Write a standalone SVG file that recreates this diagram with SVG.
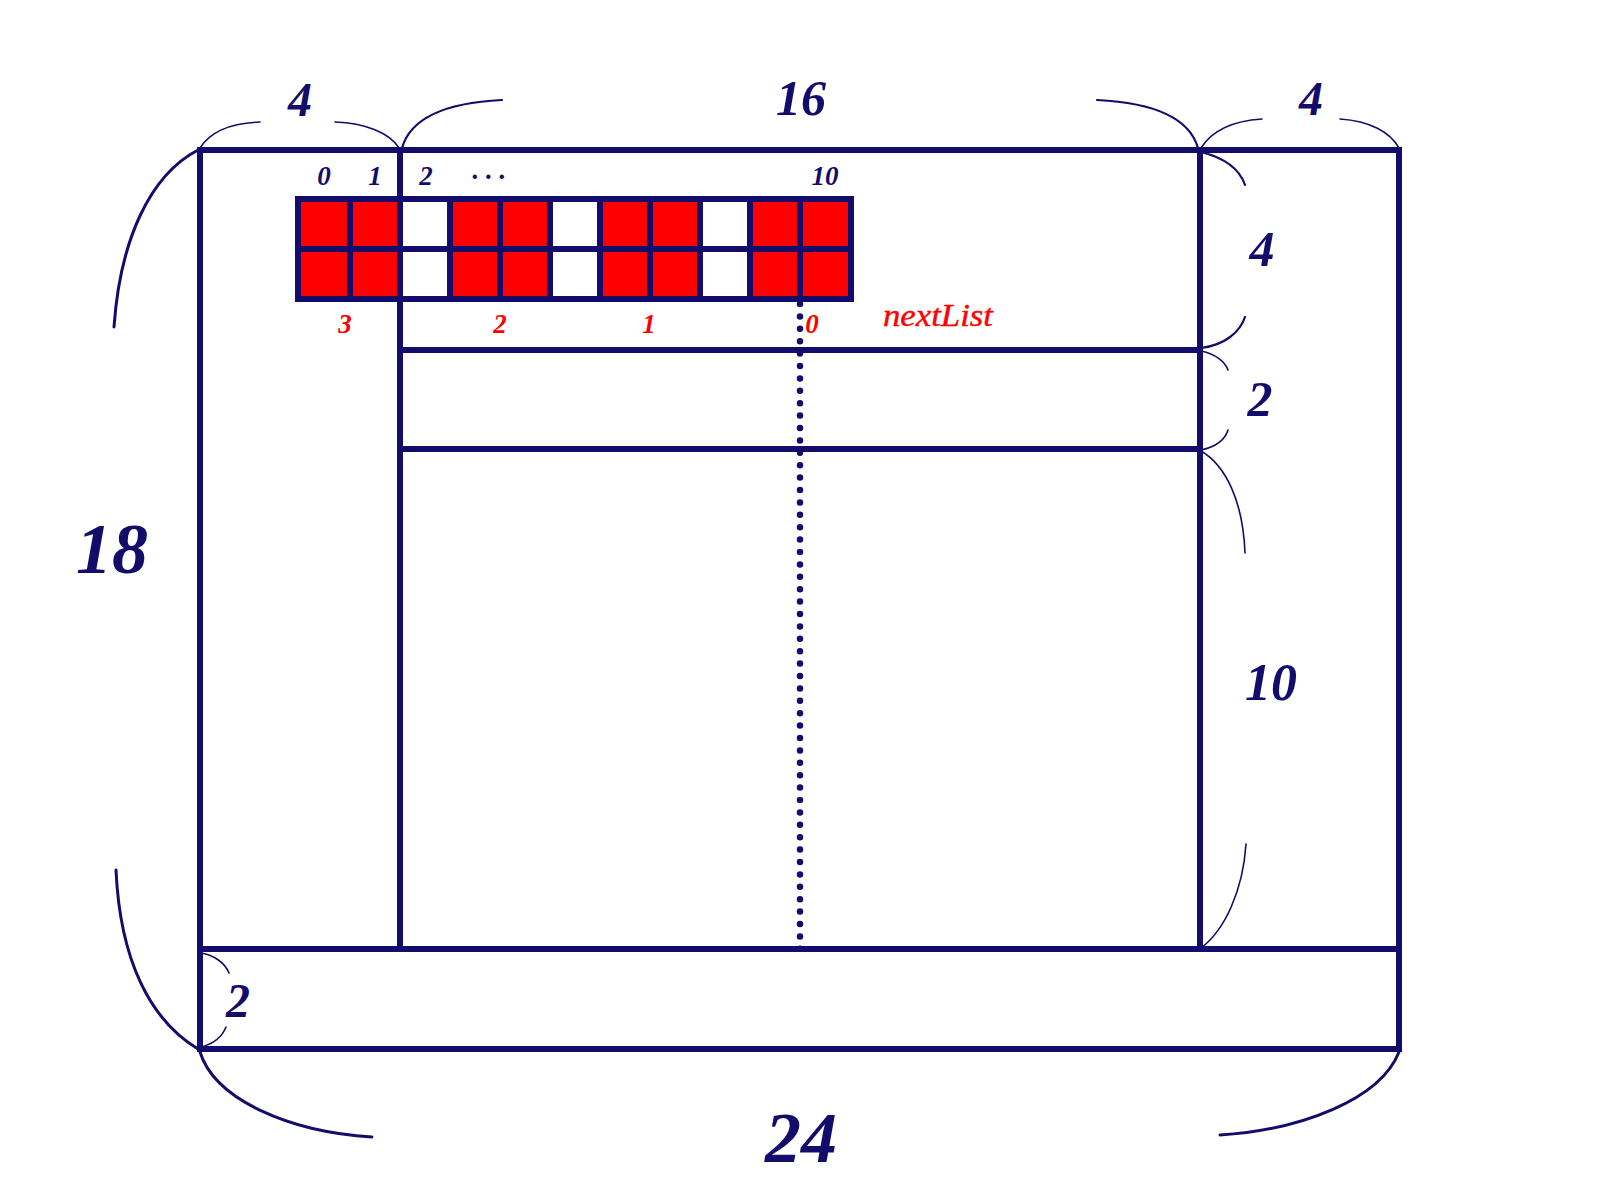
<svg xmlns="http://www.w3.org/2000/svg" width="1600" height="1200" viewBox="0 0 1600 1200">
  <style>
    .ln { stroke: #140c6b; stroke-width: 6; fill: none; stroke-linecap: square; }
    .br { stroke: #140c6b; fill: none; stroke-linecap: round; }
    .thin { stroke-width: 1.6; }
    .mid { stroke-width: 2.2; }
    .thick { stroke-width: 3; }
    .lbl { font-family: "Liberation Serif", "Times New Roman", serif; font-weight: bold; font-style: italic; fill: #140c6b; text-anchor: middle; }
    .idx { font-family: "Liberation Serif", "Times New Roman", serif; font-weight: bold; font-style: italic; font-size: 27px; text-anchor: middle; }
    .red { fill: #ff0000; }
    .cell { fill: #ff0000; }
  </style>
  <rect width="1600" height="1200" fill="#ffffff"/>

  <g id="frame">
    <rect class="ln" x="200" y="150" width="1199" height="899"/>
    <line class="ln" x1="400" y1="150" x2="400" y2="949"/>
    <line class="ln" x1="1200" y1="150" x2="1200" y2="949"/>
    <line class="ln" x1="400" y1="350" x2="1200" y2="350"/>
    <line class="ln" x1="400" y1="449" x2="1200" y2="449"/>
    <line class="ln" x1="200" y1="949" x2="1399" y2="949"/>
  </g>

  <g id="divider">
    <line x1="800" y1="304" x2="800" y2="950" stroke="#140c6b" stroke-width="6.5" stroke-linecap="round" stroke-dasharray="0 12.4"/>
  </g>

  <g id="grid">
    <g>
      <rect class="cell" x="300" y="199" width="50" height="100"/>
      <rect class="cell" x="350" y="199" width="50" height="100"/>
      <rect class="cell" x="450" y="199" width="50" height="100"/>
      <rect class="cell" x="500" y="199" width="50" height="100"/>
      <rect class="cell" x="600" y="199" width="50" height="100"/>
      <rect class="cell" x="650" y="199" width="50" height="100"/>
      <rect class="cell" x="750" y="199" width="50" height="100"/>
      <rect class="cell" x="800" y="199" width="50" height="100"/>
    </g>
    <rect class="ln" x="298" y="199" width="553" height="100"/>
    <line class="ln" x1="298" y1="249" x2="851" y2="249"/>
    <path class="ln" d="M350,199V299M400,199V299M450,199V299M500,199V299M550,199V299M600,199V299M650,199V299M700,199V299M750,199V299M800,199V299"/>
  </g>

  <g id="indices">
    <text class="idx" x="324" y="185" fill="#140c6b">0</text>
    <text class="idx" x="375" y="185" fill="#140c6b">1</text>
    <text class="idx" x="426" y="185" fill="#140c6b">2</text>
    <text class="idx" x="488" y="186" fill="#140c6b">· · ·</text>
    <text class="idx" x="825" y="185" fill="#140c6b">10</text>
  </g>

  <g id="nextList">
    <text class="idx red" x="345" y="333">3</text>
    <text class="idx red" x="500" y="333">2</text>
    <text class="idx red" x="649" y="333">1</text>
    <text class="idx red" x="812" y="333">0</text>
    <text x="883" y="326" font-family="Liberation Serif, Times New Roman, serif" font-style="italic" font-size="31" fill="#ff0000" stroke="#ff0000" stroke-width="0.4" textLength="110" lengthAdjust="spacingAndGlyphs">nextList</text>
  </g>

  <g id="braces">
    <path class="br thin" d="M200,148 C210,132 230,123 260,122"/>
    <path class="br thin" d="M335,122 C365,123 390,133 399,148"/>
    <path class="br mid" d="M402,148 C410,120 440,103 502,100"/>
    <path class="br mid" d="M1097,100 C1159,103 1190,120 1198,148"/>
    <path class="br thin" d="M1201,148 C1211,132 1231,121 1262,119"/>
    <path class="br thin" d="M1340,119 C1370,121 1390,132 1399,148"/>
    <path class="br mid" d="M1201,152 C1225,158 1240,170 1245,185"/>
    <path class="br mid" d="M1245,317 C1240,332 1225,345 1201,348"/>
    <path class="br thin" d="M1201,351 C1216,354 1225,362 1228,370"/>
    <path class="br thin" d="M1228,430 C1225,440 1215,447 1201,450"/>
    <path class="br thin" d="M1201,451 C1225,465 1243,500 1245,553"/>
    <path class="br thin" d="M1246,844 C1243,890 1225,930 1201,948"/>
    <path class="br thick" d="M198,150 C150,175 120,240 114,327"/>
    <path class="br thick" d="M116,870 C120,960 150,1020 198,1049"/>
    <path class="br thin" d="M201,953 C214,955 225,963 229,973"/>
    <path class="br thin" d="M226,1027 C222,1037 213,1044 201,1047"/>
    <path class="br thick" d="M200,1052 C215,1100 290,1132 372,1137"/>
    <path class="br thick" d="M1399,1052 C1380,1100 1300,1130 1220,1135"/>
  </g>

  <g id="dimensions">
    <text class="lbl" x="300" y="116" font-size="48">4</text>
    <text class="lbl" x="801" y="115" font-size="50">16</text>
    <text class="lbl" x="1311" y="115" font-size="48">4</text>
    <text class="lbl" x="1262" y="266" font-size="50">4</text>
    <text class="lbl" x="1260" y="416" font-size="50">2</text>
    <text class="lbl" x="1271" y="700" font-size="52">10</text>
    <text class="lbl" x="112" y="573" font-size="72">18</text>
    <text class="lbl" x="238" y="1017" font-size="48">2</text>
    <text class="lbl" x="801" y="1162" font-size="72">24</text>
  </g>
</svg>
